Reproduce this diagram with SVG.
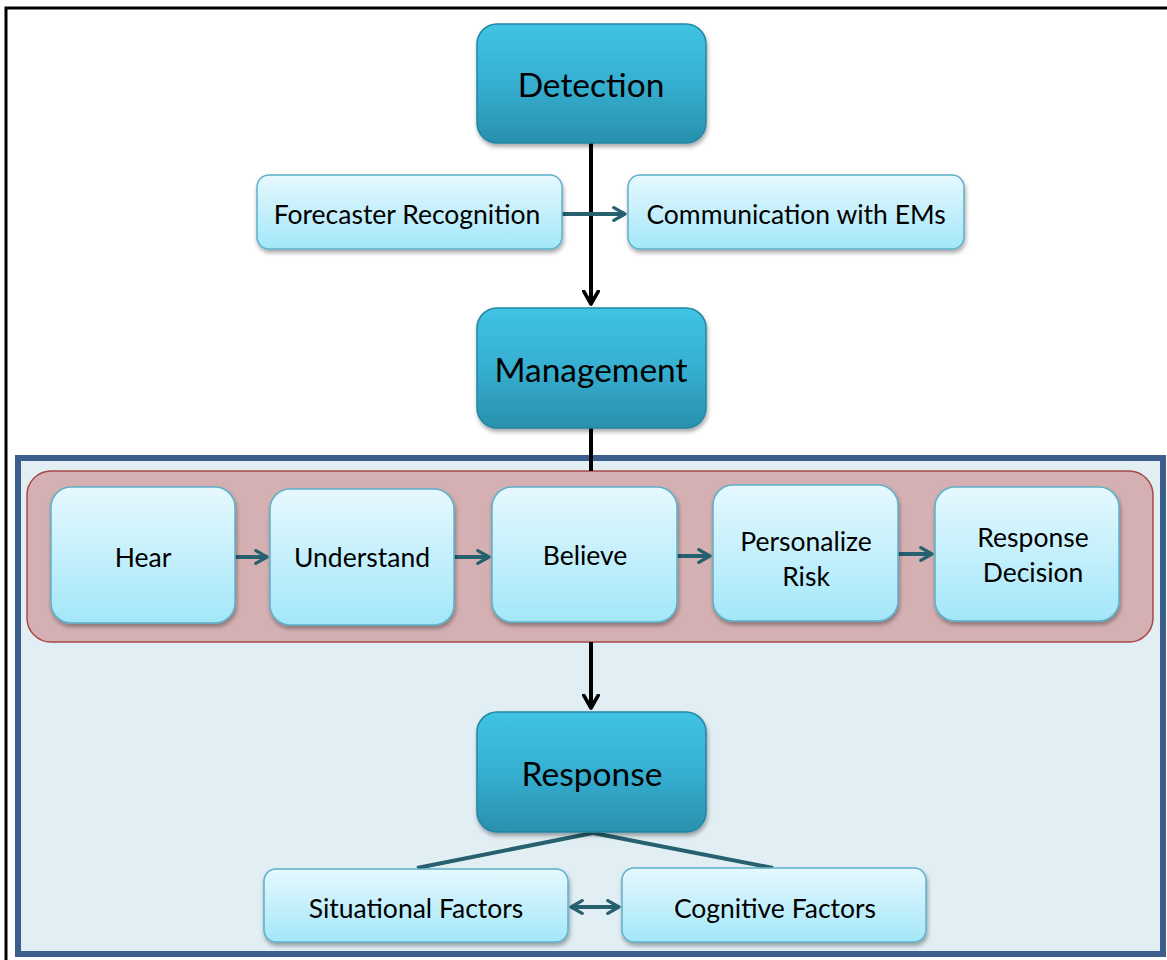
<svg xmlns="http://www.w3.org/2000/svg" width="1167" height="960" viewBox="0 0 1167 960">
<defs>
<linearGradient id="gDark" x1="0" y1="0" x2="0" y2="1">
<stop offset="0" stop-color="#40c3e4"/><stop offset="0.5" stop-color="#36afd1"/><stop offset="1" stop-color="#2990ad"/>
</linearGradient>
<linearGradient id="gLight" x1="0" y1="0" x2="0" y2="1">
<stop offset="0" stop-color="#e6f8fe"/><stop offset="1" stop-color="#a3e7f9"/>
</linearGradient>
<filter id="sh" x="-10%" y="-10%" width="125%" height="130%">
<feDropShadow dx="1" dy="3" stdDeviation="2" flood-color="#000" flood-opacity="0.35"/>
</filter>
<marker id="aTeal" viewBox="0 0 10 10" refX="8" refY="5" markerWidth="4" markerHeight="4" orient="auto" markerUnits="strokeWidth">
<path d="M1,1 L8,5 L1,9" fill="none" stroke="#27606e" stroke-width="2" stroke-linecap="round" stroke-linejoin="round"/>
</marker>
<marker id="aTealS" viewBox="0 0 10 10" refX="2" refY="5" markerWidth="4" markerHeight="4" orient="auto" markerUnits="strokeWidth">
<path d="M9,1 L2,5 L9,9" fill="none" stroke="#27606e" stroke-width="2" stroke-linecap="round" stroke-linejoin="round"/>
</marker>
<marker id="aBlack" viewBox="0 0 10 10" refX="8" refY="5" markerWidth="4.5" markerHeight="4.5" orient="auto" markerUnits="strokeWidth">
<path d="M1,1 L8,5 L1,9" fill="none" stroke="#000" stroke-width="2" stroke-linecap="round" stroke-linejoin="round"/>
</marker>
</defs>
<style>
.dark{fill:url(#gDark);stroke:#2387a3;stroke-width:1.5;filter:url(#sh)}
.light{fill:url(#gLight);stroke:#5db0c9;stroke-width:1.5;filter:url(#sh)}
.big{font-family:Lato,"Noto Sans",sans-serif;font-size:33.5px;fill:#000;text-anchor:middle;dominant-baseline:central}
.sm{font-family:Lato,"Noto Sans",sans-serif;font-size:26.5px;fill:#000;text-anchor:middle;dominant-baseline:central}
.teal{stroke:#27606e;stroke-width:4;fill:none}
.blk{stroke:#000;stroke-width:4;fill:none}
</style>
<rect x="0" y="0" width="1167" height="960" fill="#fff"/>
<rect x="6" y="8" width="1175" height="965" fill="none" stroke="#000" stroke-width="3"/>
<g id="response-container">
<rect x="18" y="458" width="1145" height="496" fill="#e1eef4" stroke="#3b5e8c" stroke-width="6"/>
</g>
<g id="process-container">
<rect x="27" y="471" width="1126" height="171" rx="24" fill="#d4b0b2" stroke="#a84848" stroke-width="1.5"/>
</g>
<g id="connectors">
<line class="blk" x1="591" y1="143" x2="591" y2="304" marker-end="url(#aBlack)"/>
<line class="blk" x1="591" y1="428" x2="591" y2="471"/>
<line class="blk" x1="591" y1="642" x2="591" y2="708" marker-end="url(#aBlack)"/>
<line class="teal" x1="562" y1="214" x2="625" y2="214" marker-end="url(#aTeal)"/>
<line class="teal" x1="235" y1="557" x2="267" y2="557" marker-end="url(#aTeal)"/>
<line class="teal" x1="454" y1="557" x2="489" y2="557" marker-end="url(#aTeal)"/>
<line class="teal" x1="677" y1="556" x2="710" y2="556" marker-end="url(#aTeal)"/>
<line class="teal" x1="898" y1="554" x2="932" y2="554" marker-end="url(#aTeal)"/>
<line class="teal" x1="593" y1="833" x2="417" y2="868"/>
<line class="teal" x1="593" y1="833" x2="773" y2="868"/>
<line class="teal" x1="571" y1="907" x2="619" y2="907" marker-start="url(#aTealS)" marker-end="url(#aTeal)"/>
</g>
<g id="detection"><rect class="dark" x="477" y="24" width="229" height="119" rx="20"/><text class="big" x="591" y="84">Detection</text></g>
<g id="forecaster-recognition"><rect class="light" x="257" y="175" width="305" height="74" rx="12"/><text class="sm" x="407" y="214">Forecaster Recognition</text></g>
<g id="communication-with-ems"><rect class="light" x="628" y="175" width="336" height="74" rx="12"/><text class="sm" x="796" y="214">Communication with EMs</text></g>
<g id="management"><rect class="dark" x="477" y="308" width="229" height="120" rx="20"/><text class="big" x="591" y="369">Management</text></g>
<g id="hear"><rect class="light" x="51" y="487" width="184" height="136" rx="20"/><text class="sm" x="143" y="557">Hear</text></g>
<g id="understand"><rect class="light" x="270" y="489" width="184" height="136" rx="20"/><text class="sm" x="362" y="557">Understand</text></g>
<g id="believe"><rect class="light" x="492" y="487" width="185" height="135" rx="20"/><text class="sm" x="585" y="555">Believe</text></g>
<g id="personalize-risk"><rect class="light" x="713" y="485" width="185" height="136" rx="20"/><text class="sm" x="806" y="541">Personalize</text><text class="sm" x="806" y="576">Risk</text></g>
<g id="response-decision"><rect class="light" x="935" y="487" width="184" height="134" rx="20"/><text class="sm" x="1033" y="537">Response</text><text class="sm" x="1033" y="572">Decision</text></g>
<g id="response"><rect class="dark" x="477" y="712" width="229" height="120" rx="20"/><text class="big" x="592" y="773">Response</text></g>
<g id="situational-factors"><rect class="light" x="264" y="869" width="304" height="73" rx="12"/><text class="sm" x="416" y="908">Situational Factors</text></g>
<g id="cognitive-factors"><rect class="light" x="622" y="868" width="304" height="74" rx="12"/><text class="sm" x="775" y="908">Cognitive Factors</text></g>
</svg>
